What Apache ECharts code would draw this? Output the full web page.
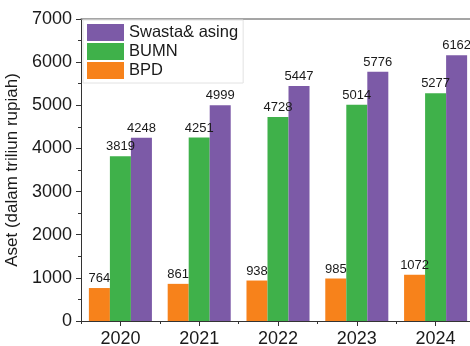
<!DOCTYPE html>
<html>
<head>
<meta charset="utf-8">
<script src="https://cdn.jsdelivr.net/npm/echarts@6/dist/echarts.min.js"></script>
<style>
  html, body { margin: 0; padding: 0; background: #fff; }
  #chart { width: 470px; height: 346px; }
</style>
</head>
<body>
<div id="chart"></div>
<script>
// Bank assets by ownership group, 2020–2024 (trillion rupiah)
const years = ['2020', '2021', '2022', '2023', '2024'];
const bpd = [764, 861, 938, 985, 1072];
const bumn = [3819, 4251, 4728, 5014, 5277];
const swasta = [4248, 4999, 5447, 5776, 6162];

const FONT = '"Liberation Sans", Arial, sans-serif';
const TEXT = '#1a1a1a';

function barSeries(name, data, color) {
  return {
    name: name,
    type: 'bar',
    data: data,
    xAxisIndex: 0,
    barGap: '0%',
    barCategoryGap: '20%',
    itemStyle: { color: color },
    label: {
      show: true,
      position: 'top',
      distance: 3,
      fontFamily: FONT,
      fontSize: 13,
      color: TEXT
    }
  };
}

const chart = echarts.init(document.getElementById('chart'), null, { renderer: 'canvas' });
chart.setOption({
  animation: false,
  backgroundColor: '#fff',
  grid: { left: 81, top: 19, width: 394, height: 302, containLabel: false, outerBoundsMode: 'none' },
  legend: {
    orient: 'vertical',
    left: 83,
    top: 20,
    data: ['Swasta& asing', 'BUMN', 'BPD'],
    itemWidth: 37,
    itemHeight: 17,
    itemGap: 2,
    itemStyle: { borderWidth: 0 },
    padding: [4, 5, 4, 4],
    borderColor: '#e2e2e2',
    borderWidth: 1,
    backgroundColor: '#fff',
    icon: 'rect',
    textStyle: { fontFamily: FONT, fontSize: 16.5, color: TEXT }
  },
  xAxis: [
    {
      type: 'category',
      data: years,
      position: 'bottom',
      axisLine: { show: true, lineStyle: { color: '#333', width: 1 } },
      axisTick: { show: true, alignWithLabel: true, inside: false, length: 5, lineStyle: { color: '#333' } },
      axisLabel: { fontFamily: FONT, fontSize: 18, color: TEXT, margin: 9 }
    },
    {
      // short ticks on the category boundaries
      type: 'category',
      data: years,
      position: 'bottom',
      axisLine: { show: false },
      axisTick: { show: true, alignWithLabel: false, length: 3, lineStyle: { color: '#333' } },
      axisLabel: { show: false }
    },
    {
      // upper frame line
      type: 'category',
      data: years,
      position: 'top',
      axisLine: { show: true, lineStyle: { color: '#888', width: 1.5 } },
      axisTick: { show: false },
      axisLabel: { show: false }
    }
  ],
  yAxis: {
    type: 'value',
    min: 0,
    max: 7000,
    interval: 1000,
    name: 'Aset (dalam triliun rupiah)',
    nameLocation: 'middle',
    nameGap: 52,
    nameTextStyle: { fontFamily: FONT, fontSize: 17, color: TEXT },
    axisLine: { show: true, lineStyle: { color: '#333', width: 1 } },
    axisTick: { show: true, length: 5, lineStyle: { color: '#333' } },
    minorTick: { show: true, splitNumber: 2, length: 3, lineStyle: { color: '#333' } },
    splitLine: { show: false },
    axisLabel: {
      fontFamily: FONT, fontSize: 18, color: TEXT, margin: 9,
      formatter: function (v) { return String(v); }
    }
  },
  series: [
    barSeries('BPD', bpd, '#F7821B'),
    barSeries('BUMN', bumn, '#3FB14A'),
    barSeries('Swasta& asing', swasta, '#7C5AA7')
  ]
});
</script>
</body>
</html>
